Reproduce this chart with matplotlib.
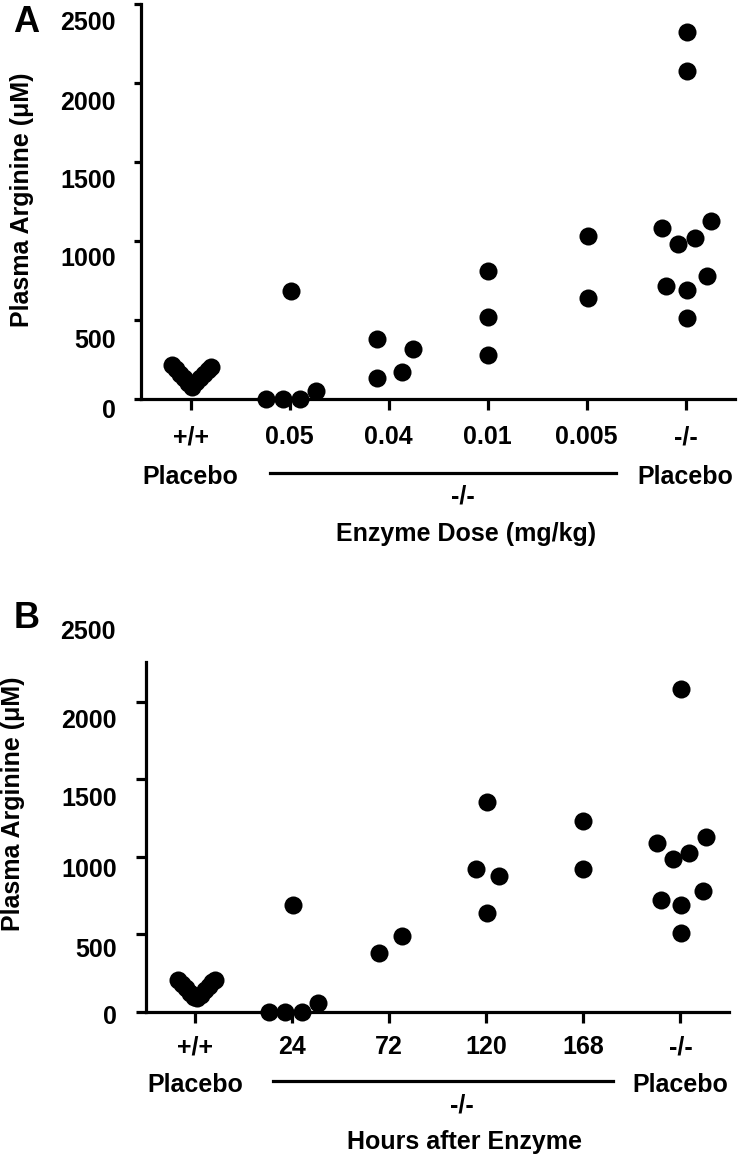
import matplotlib
matplotlib.use("Agg")
import matplotlib.pyplot as plt
from matplotlib.transforms import ScaledTranslation, blended_transform_factory

plt.rcParams["font.family"] = ["Liberation Sans", "DejaVu Sans"]
plt.rcParams["font.weight"] = "bold"

# ---------------- data ----------------
dose_labels = ["+/+", "0.05", "0.04", "0.01", "0.005", "-/-"]
dose_vals = [
    [215, 190, 160, 130, 100, 78, 105, 135, 160, 185, 204],
    [0, 0, 0, 51, 685],
    [378, 131, 173, 316],
    [812, 521, 278],
    [1034, 641],
    [2325, 2078, 1084, 981, 1017, 1127, 717, 690, 778, 511],
]
dose_jit = [
    [-0.19, -0.15, -0.11, -0.07, -0.03, 0.01, 0.05, 0.09, 0.13, 0.17, 0.21],
    [-0.24, -0.07, 0.10, 0.27, 0.01],
    [-0.115, -0.115, 0.13, 0.25],
    [0.0, 0.0, 0.0],
    [0.01, 0.01],
    [0.01, 0.01, -0.24, -0.075, 0.094, 0.26, -0.20, 0.01, 0.22, 0.01],
]

hour_labels = ["+/+", "24", "72", "120", "168", "-/-"]
hour_vals = [
    [205, 180, 150, 120, 95, 86, 110, 140, 165, 190, 205],
    [0, 0, 0, 54, 688],
    [377, 488],
    [1355, 921, 875, 635],
    [1232, 921],
    [2080, 1086, 985, 1022, 1125, 721, 688, 781, 510],
]
hour_jit = [
    [-0.17, -0.13, -0.09, -0.05, -0.01, 0.02, 0.06, 0.10, 0.14, 0.18, 0.21],
    [-0.24, -0.07, 0.10, 0.265, 0.01],
    [-0.11, 0.135],
    [0.01, -0.11, 0.13, 0.01],
    [0.0, 0.0],
    [0.01, -0.24, -0.075, 0.09, 0.26, -0.20, 0.01, 0.23, 0.01],
]

yticks_a = [0, 500, 1000, 1500, 2000, 2500]
yticks_b = [0, 500, 1000, 1500, 2000]

FS = 18
LW = 2.3
W, H = 740, 1158

fig = plt.figure(figsize=(W / 100, H / 100), dpi=100)


def panel(rect, ylim, yticks, labels, vals, jit, shifts, ticklen, ypad, xpad, ly, xlabel):
    ax = fig.add_axes(rect)
    for i, (v, j) in enumerate(zip(vals, jit)):
        ax.plot([i + d for d in j], v, "o", color="black", ms=13, mew=0,
                clip_on=False, zorder=3)
    ax.set_xlim(-0.5, 5.5)
    ax.set_ylim(*ylim)
    ax.set_xticks(range(len(labels)))
    ax.set_xticklabels(labels, fontsize=FS, fontweight="bold")
    ax.set_yticks(yticks)
    ax.set_yticklabels([str(t) for t in yticks], fontsize=FS, fontweight="bold")
    for s in ("top", "right"):
        ax.spines[s].set_visible(False)
    for s in ("left", "bottom"):
        ax.spines[s].set_linewidth(LW)
    ax.tick_params(axis="y", length=ticklen[0], width=LW, pad=ypad)
    ax.tick_params(axis="x", length=ticklen[1], width=LW, pad=xpad)
    # tick labels in the original sit a little below their ticks
    for lab, dy in zip(ax.get_yticklabels(), shifts):
        lab.set_transform(lab.get_transform() + ScaledTranslation(0, -dy / 100, fig.dpi_scale_trans))

    tr = blended_transform_factory(ax.transData, ax.transAxes)
    ax.plot([0.8, 4.3], [ly[0]] * 2, color="black", lw=LW, transform=tr, clip_on=False)
    ax.text(0, ly[1], "Placebo", transform=tr, ha="center", va="center", fontsize=FS)
    ax.text(5, ly[1], "Placebo", transform=tr, ha="center", va="center", fontsize=FS)
    ax.text(2.75, ly[2], "-/-", transform=tr, ha="center", va="center", fontsize=FS)
    ax.text(2.78, ly[3], xlabel, transform=tr, ha="center", va="center", fontsize=FS)
    return ax


axA = panel([141.2 / W, 1 - 399 / H, 594 / W, 395 / H], (0, 2500), yticks_a,
            dose_labels, dose_vals, dose_jit, [10, 18, 16, 17, 17, 17],
            (5, 8), 13.5, 11, (-0.187, -0.1975, -0.2456, -0.342),
            "Enzyme Dose (mg/kg)")

axB = panel([146.45 / W, 1 - 1011.7 / H, 582.6 / W, 350 / H], (0, 2258), yticks_b,
            hour_labels, hour_vals, hour_jit, [3, 13, 11, 17, 17],
            (7, 8), 14.5, 9, (-0.197, -0.2103, -0.2694, -0.3717),
            "Hours after Enzyme")

# the "2500" label of panel B sits above the end of its axis
trB = blended_transform_factory(axB.transAxes, axB.transData)
axB.text(0, 2500, "2500", ha="right", va="center", fontsize=FS,
         transform=trB + ScaledTranslation(-31 / 100, -7.5 / 100, fig.dpi_scale_trans))

fig.text(22 / W, 1 - 200 / H, "Plasma Arginine (μM)", rotation=90,
         ha="center", va="center", fontsize=FS)
fig.text(13 / W, 1 - 804 / H, "Plasma Arginine (μM)", rotation=90,
         ha="center", va="center", fontsize=FS)
fig.text(26 / W, 1 - 22 / H, "A", ha="center", va="center", fontsize=26)
fig.text(27 / W, 1 - 618 / H, "B", ha="center", va="center", fontsize=26)

fig.savefig("out.png", dpi=100)
